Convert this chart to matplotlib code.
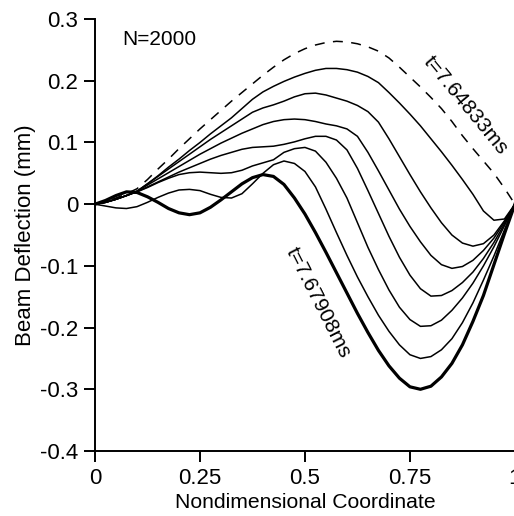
import numpy as np
import matplotlib
matplotlib.use('Agg')
import matplotlib.pyplot as plt

plt.rcParams['font.family'] = ['Liberation Sans', 'DejaVu Sans']

# shared coordinate grid (nondimensional), 0 .. 1 in steps of 0.025
x = np.arange(41) * 0.025

# beam deflection (mm), earliest snapshot first
defl_t1 = [0.000, 0.004, 0.010, 0.017, 0.025, 0.040, 0.057, 0.073, 0.090, 0.106,
           0.122, 0.137, 0.152, 0.167, 0.181, 0.195, 0.209, 0.222, 0.234, 0.244,
           0.252, 0.258, 0.262, 0.264, 0.263, 0.260, 0.255, 0.248, 0.237, 0.222,
           0.206, 0.190, 0.173, 0.155, 0.134, 0.111, 0.090, 0.070, 0.050, 0.026,
           0.000]
defl_c1 = [0.000, 0.003, 0.008, 0.014, 0.021, 0.033, 0.046, 0.060, 0.073, 0.087,
           0.100, 0.114, 0.127, 0.140, 0.155, 0.170, 0.182, 0.191, 0.199, 0.206,
           0.212, 0.217, 0.220, 0.220, 0.218, 0.214, 0.207, 0.197, 0.181, 0.164,
           0.146, 0.127, 0.106, 0.085, 0.063, 0.040, 0.016, -0.011, -0.026, -0.024,
           0.000]
defl_c2 = [0.000, 0.003, 0.008, 0.014, 0.021, 0.033, 0.045, 0.057, 0.069, 0.081,
           0.093, 0.105, 0.116, 0.127, 0.138, 0.149, 0.156, 0.161, 0.167, 0.174,
           0.179, 0.180, 0.177, 0.172, 0.167, 0.160, 0.150, 0.133, 0.106, 0.077,
           0.048, 0.020, -0.006, -0.030, -0.050, -0.063, -0.068, -0.064, -0.050, -0.027,
           0.000]
defl_c3 = [0.000, 0.003, 0.008, 0.014, 0.021, 0.031, 0.041, 0.051, 0.061, 0.071,
           0.081, 0.090, 0.099, 0.107, 0.115, 0.122, 0.129, 0.134, 0.137, 0.138,
           0.137, 0.134, 0.130, 0.127, 0.122, 0.110, 0.084, 0.054, 0.023, -0.008,
           -0.036, -0.061, -0.083, -0.098, -0.104, -0.101, -0.091, -0.075, -0.055, -0.029,
           0.000]
defl_c4 = [0.000, 0.003, 0.008, 0.014, 0.020, 0.028, 0.036, 0.044, 0.052, 0.059,
           0.066, 0.073, 0.079, 0.084, 0.089, 0.092, 0.093, 0.094, 0.097, 0.101,
           0.106, 0.110, 0.110, 0.104, 0.088, 0.058, 0.022, -0.015, -0.052, -0.086,
           -0.115, -0.137, -0.149, -0.148, -0.140, -0.127, -0.110, -0.088, -0.062, -0.032,
           0.000]
defl_c5 = [0.000, 0.003, 0.008, 0.014, 0.020, 0.027, 0.035, 0.042, 0.048, 0.051,
           0.052, 0.051, 0.050, 0.051, 0.055, 0.062, 0.067, 0.072, 0.084, 0.090,
           0.092, 0.086, 0.068, 0.042, 0.010, -0.030, -0.070, -0.106, -0.139, -0.167,
           -0.187, -0.198, -0.197, -0.188, -0.172, -0.152, -0.128, -0.100, -0.069, -0.035,
           0.000]
defl_c6 = [0.000, -0.003, -0.006, -0.007, -0.004, 0.003, 0.011, 0.018, 0.023, 0.024,
           0.022, 0.016, 0.011, 0.010, 0.017, 0.033, 0.050, 0.064, 0.070, 0.066,
           0.053, 0.028, -0.008, -0.046, -0.083, -0.118, -0.150, -0.180, -0.206, -0.228,
           -0.244, -0.250, -0.247, -0.236, -0.218, -0.192, -0.160, -0.123, -0.084, -0.042,
           0.000]
defl_t2 = [0.000, 0.006, 0.014, 0.020, 0.019, 0.012, 0.003, -0.007, -0.014, -0.017,
           -0.014, -0.005, 0.007, 0.020, 0.033, 0.043, 0.048, 0.045, 0.032, 0.010,
           -0.016, -0.046, -0.078, -0.111, -0.144, -0.177, -0.208, -0.237, -0.262, -0.282,
           -0.296, -0.300, -0.295, -0.280, -0.258, -0.228, -0.190, -0.148, -0.098, -0.048,
           0.000]

thin_curves = [defl_c1, defl_c2, defl_c3, defl_c4, defl_c5, defl_c6]

xticks = [0, 0.25, 0.5, 0.75, 1]
xtick_labels = ['0', '0.25', '0.5', '0.75', '1']
yticks = [-0.4, -0.3, -0.2, -0.1, 0, 0.1, 0.2, 0.3]
ytick_labels = ['-0.4', '-0.3', '-0.2', '-0.1', '0', '0.1', '0.2', '0.3']

fig = plt.figure(figsize=(5.14, 5.16), dpi=100)
ax = fig.add_axes([0.1848, 0.126, 0.817, 0.837])

ax.plot(x, defl_t1, color='black', lw=1.1, dashes=(6.5, 5.5))
for y in thin_curves:
    ax.plot(x, y, color='black', lw=1.1)
ax.plot(x, defl_t2, color='black', lw=2.3)

ax.set_xlim(0, 1)
ax.set_ylim(-0.4, 0.3)
ax.set_xticks(xticks)
ax.set_xticklabels(xtick_labels)
ax.set_yticks(yticks)
ax.set_yticklabels(ytick_labels)

for side in ['top', 'right']:
    ax.spines[side].set_visible(False)
for side in ['left', 'bottom']:
    ax.spines[side].set_linewidth(1.4)
ax.tick_params(direction='out', length=8, width=1.4, labelsize=16, pad=4)

ax.set_xlabel('Nondimensional Coordinate', fontsize=15.2, labelpad=3)
ax.set_ylabel('Beam Deflection (mm)', fontsize=16, labelpad=3)

ax.text(0.064, 0.267, 'N=2000', fontsize=15, va='center', ha='left')
ax.text(0.883, 0.161, 't=7.64833ms', fontsize=15, rotation=-50.5,
        rotation_mode='anchor', ha='center', va='center')
ax.text(0.531, -0.159, 't=7.67908ms', fontsize=15, rotation=-63,
        rotation_mode='anchor', ha='center', va='center')

fig.savefig('out.png', dpi=100)
